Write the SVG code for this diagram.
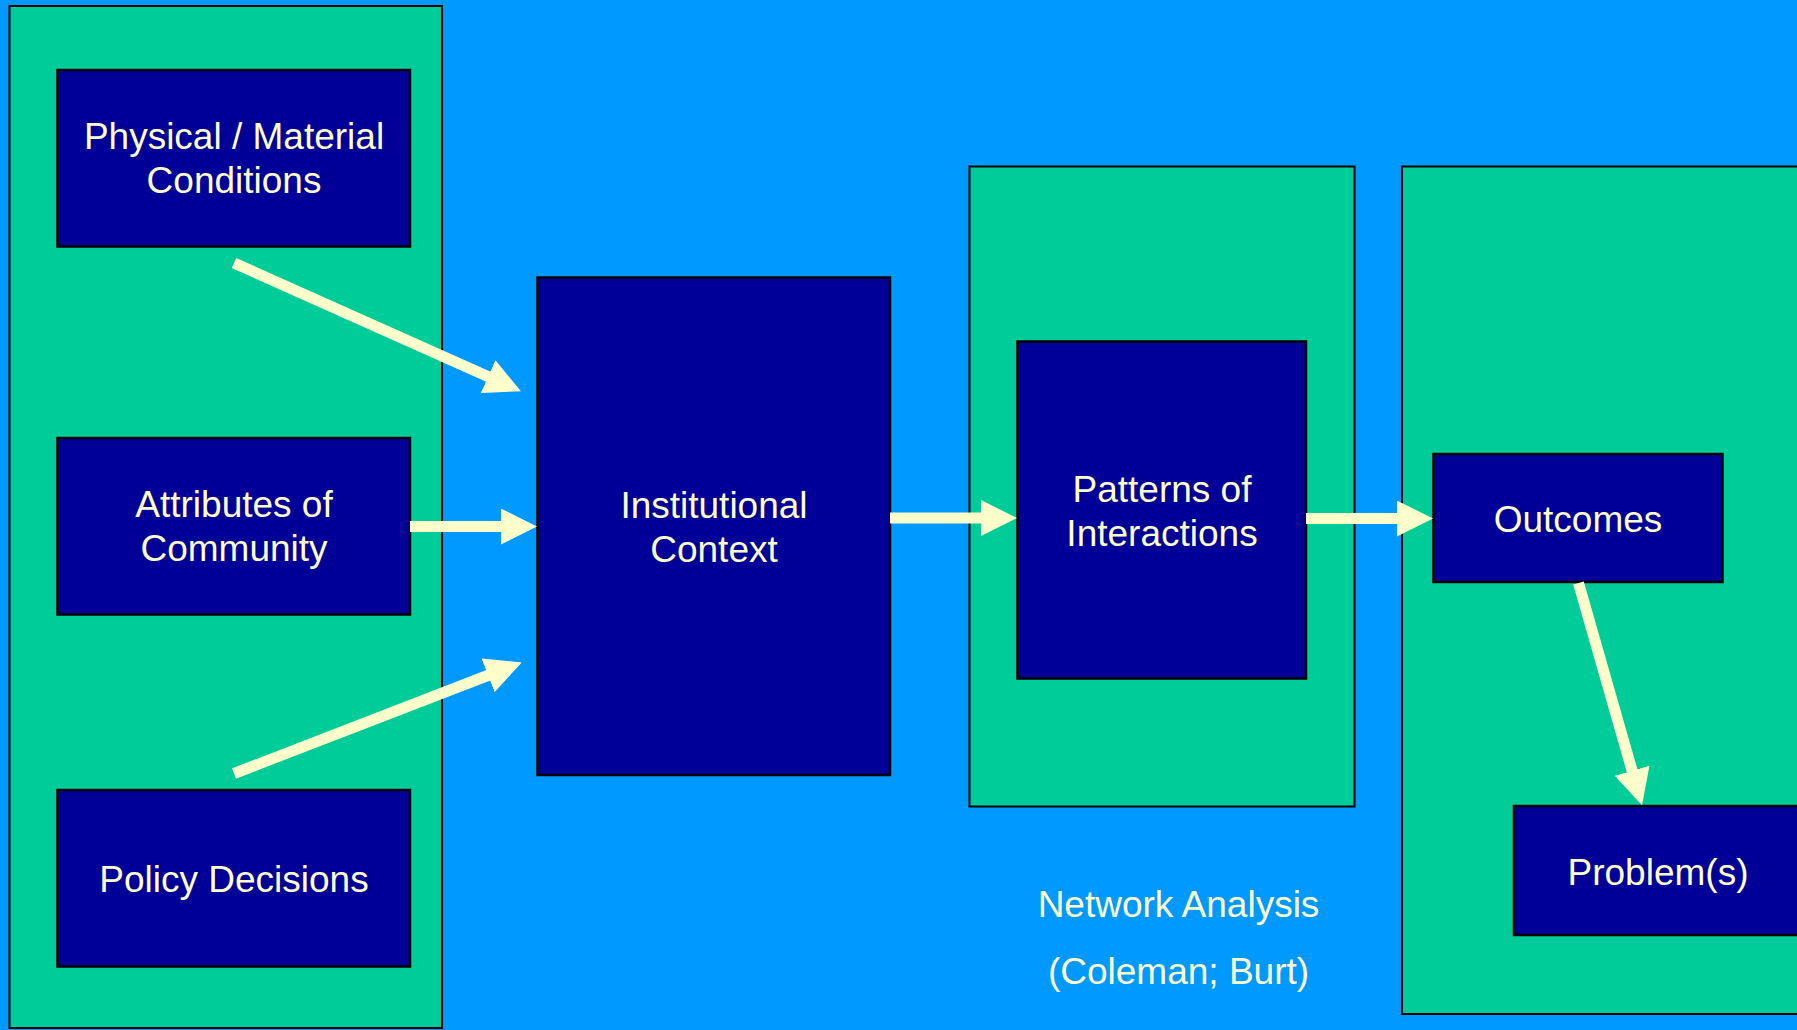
<svg xmlns="http://www.w3.org/2000/svg" width="1797" height="1030" viewBox="0 0 1797 1030">
  <defs>
    <style>
      .panel { fill: #00CC99; stroke: #000000; stroke-width: 2; }
      .box { fill: #000099; stroke: #000000; stroke-width: 2.5; }
      .lbl { font-family: "Liberation Sans", Arial, sans-serif; font-size: 37px; fill: #FFFFCC; text-anchor: middle; }
      .conn { stroke: #FFFFCC; stroke-width: 11; fill: none; stroke-linecap: butt; }
    </style>
    <marker id="head" markerUnits="userSpaceOnUse" viewBox="0 0 36 36" refX="1" refY="18" markerWidth="36" markerHeight="36" orient="auto">
      <path d="M0,0 L36,18 L0,36 Z" fill="#FFFFCC"/>
    </marker>
  </defs>
  <rect x="0" y="0" width="1797" height="1030" fill="#0099FF"/>

  <g id="panel-left"><rect class="panel" x="9.5" y="6" width="432.5" height="1022"/></g>
  <g id="panel-middle"><rect class="panel" x="969.5" y="166.5" width="385" height="640"/></g>
  <g id="panel-right"><rect class="panel" x="1402" y="166.5" width="400" height="847.5"/></g>

  <g id="node-physical">
    <rect class="box" x="57.5" y="70" width="352.5" height="176.5"/>
    <text class="lbl" x="234" y="149">Physical / Material</text>
    <text class="lbl" x="234" y="193">Conditions</text>
  </g>
  <g id="node-attributes">
    <rect class="box" x="57.5" y="438" width="352.5" height="176.5"/>
    <text class="lbl" x="234" y="517">Attributes of</text>
    <text class="lbl" x="234" y="561">Community</text>
  </g>
  <g id="node-policy">
    <rect class="box" x="57.5" y="790" width="352.5" height="176.5"/>
    <text class="lbl" x="234" y="892">Policy Decisions</text>
  </g>
  <g id="node-institutional">
    <rect class="box" x="537.5" y="277.5" width="352.5" height="497.5"/>
    <text class="lbl" x="714" y="518">Institutional</text>
    <text class="lbl" x="714" y="562">Context</text>
  </g>
  <g id="node-patterns">
    <rect class="box" x="1017.5" y="341.5" width="288.5" height="337"/>
    <text class="lbl" x="1162" y="502">Patterns of</text>
    <text class="lbl" x="1162" y="546">Interactions</text>
  </g>
  <g id="node-outcomes">
    <rect class="box" x="1433.5" y="454" width="289" height="128"/>
    <text class="lbl" x="1578" y="532">Outcomes</text>
  </g>
  <g id="node-problems">
    <rect class="box" x="1514" y="806" width="300" height="129"/>
    <text class="lbl" x="1658" y="885">Problem(s)</text>
  </g>
  <g id="note-network">
    <text class="lbl" x="1178.5" y="917">Network Analysis</text>
    <text class="lbl" x="1178.5" y="984">(Coleman; Burt)</text>
  </g>

  <g id="connectors">
    <line class="conn" x1="234" y1="263" x2="489" y2="377" marker-end="url(#head)"/>
    <line class="conn" x1="410" y1="526.5" x2="502" y2="526.5" marker-end="url(#head)"/>
    <line class="conn" x1="234" y1="773.5" x2="489" y2="675" marker-end="url(#head)"/>
    <line class="conn" x1="890" y1="518" x2="982" y2="518" marker-end="url(#head)"/>
    <line class="conn" x1="1306" y1="518.5" x2="1398" y2="518.5" marker-end="url(#head)"/>
    <line class="conn" x1="1578.5" y1="583" x2="1632.4" y2="771.7" marker-end="url(#head)"/>
  </g>
</svg>
